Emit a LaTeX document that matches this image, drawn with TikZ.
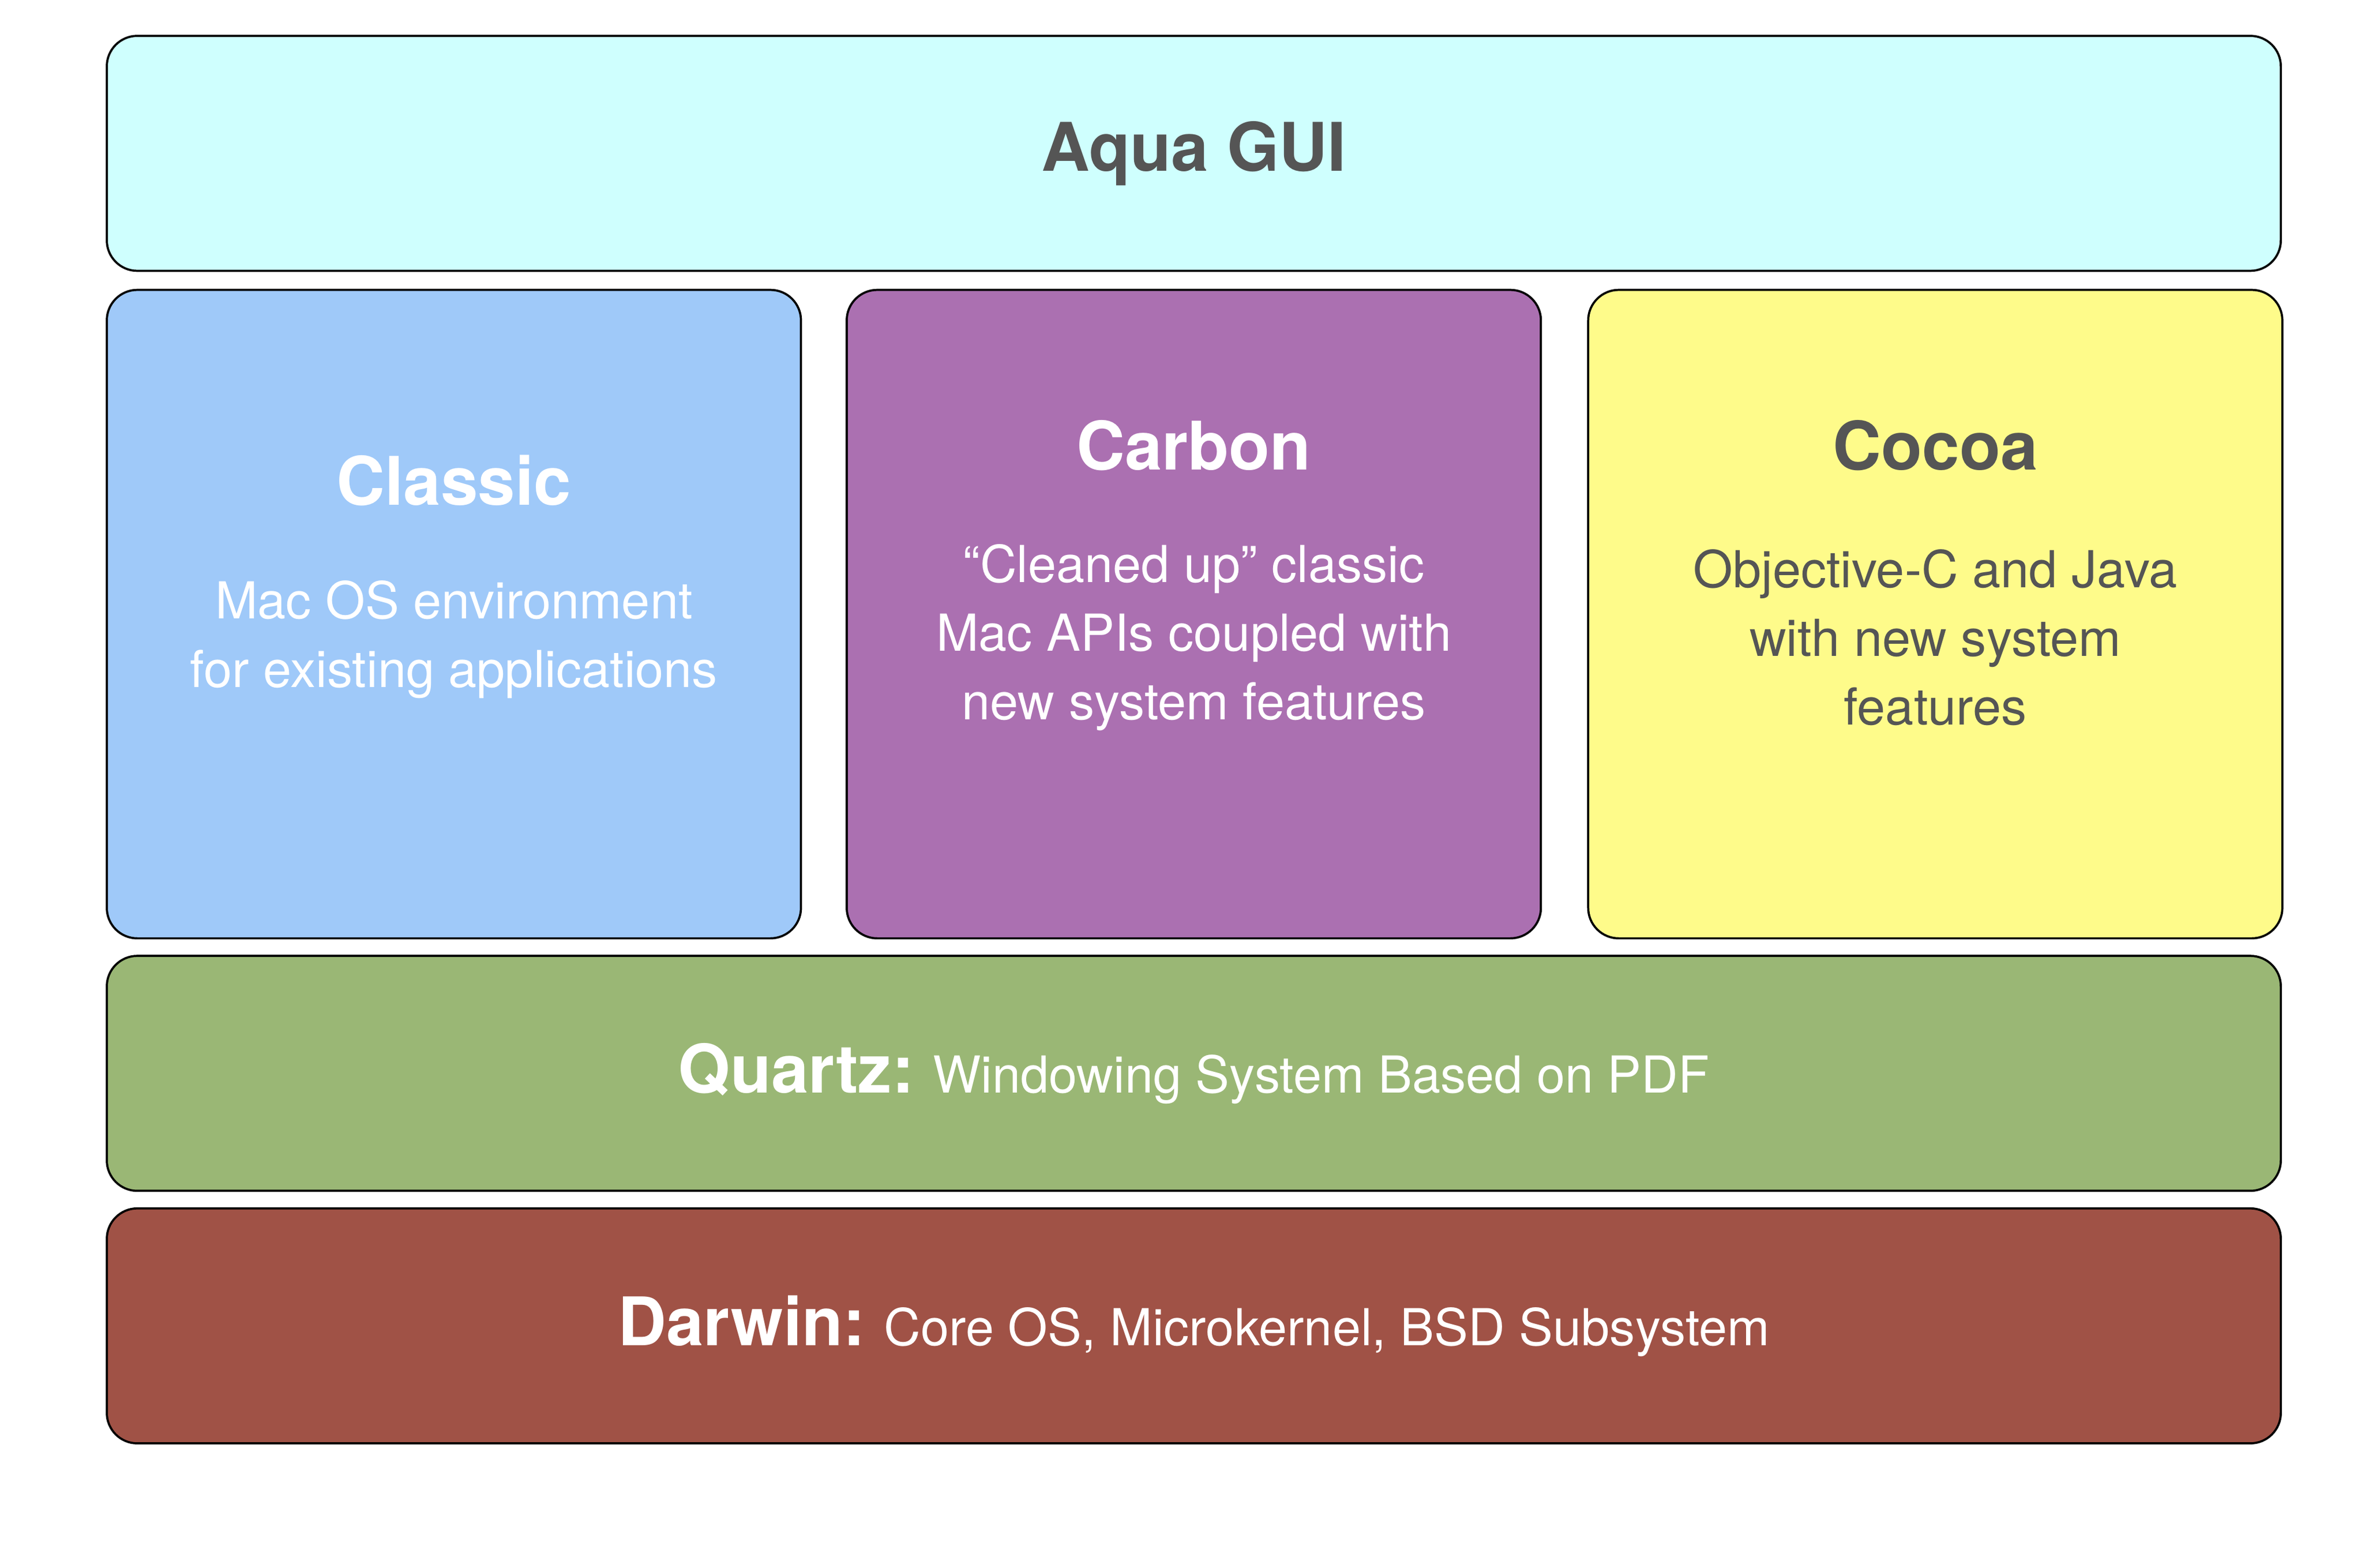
\documentclass[tikz,border=0pt]{standalone}
\usepackage{fontspec}
\setmainfont{TeX Gyre Heros}
\usetikzlibrary{positioning}
\definecolor{aquaC}{HTML}{CFFFFE}
\definecolor{classicC}{HTML}{9FC9F9}
\definecolor{carbonC}{HTML}{AB70B1}
\definecolor{cocoaC}{HTML}{FEFB8A}
\definecolor{quartzC}{HTML}{9AB775}
\definecolor{darwinC}{HTML}{A05246}
\definecolor{greyT}{HTML}{555555}
\tikzset{
  layer/.style={draw=black, line width=0.8pt, rounded corners=0.4cm, inner sep=0pt},
  wide/.style={layer, minimum width=28.5cm, minimum height=3.08cm},
  col/.style={layer, minimum width=9.1cm, minimum height=8.5cm},
  ttl/.style={font=\fontsize{25}{30}\selectfont\bfseries},
  body/.style={font=\fontsize{19}{25.6}\selectfont, align=center}
}
\begin{document}
\begin{tikzpicture}
\useasboundingbox (0,0) rectangle (31.2,-20.26);
\node[wide, fill=aquaC] (aqua) at (15.65,-2.01) {};
\node[ttl, text=greyT] (aquat) at (aqua.center) {Aqua GUI};
% middle columns
\node[col, fill=classicC] (classic) at (5.95,-8.05) {};
\node[col, fill=carbonC] (carbon) at (15.65,-8.05) {};
\node[col, fill=cocoaC] (cocoa) at (15.65+9.72,-8.05) {};
\node[ttl, text=white] (classict) at (5.95,-6.3) {Classic};
\node[body, text=white] (classicb) at (5.95,-8.38) {Mac OS environment\\for existing applications};
\node[ttl, text=white] (carbont) at (15.65,-5.84) {Carbon};
\node[body, text=white] (carbonb) at (15.65,-8.36) {“Cleaned up” classic\\Mac APIs coupled with\\new system features};
\node[ttl, text=greyT] (cocoat) at (25.37,-5.84) {Cocoa};
\node[body, text=greyT] (cocoab) at (25.37,-8.36) {Objective-C and Java\\with new system\\features};
% lower layers
\node[wide, fill=quartzC] (quartz) at (15.65,-14.07) {};
\node[text=white, font=\fontsize{19}{25}\selectfont] (quartzt) at (quartz.center) {{\fontsize{25}{30}\selectfont\bfseries Quartz:} Windowing System Based on PDF};
\node[wide, fill=darwinC] (darwin) at (15.65,-17.38) {};
\node[text=white, font=\fontsize{19}{25}\selectfont] (darwint) at (darwin.center) {{\fontsize{25}{30}\selectfont\bfseries Darwin:} Core OS, Microkernel, BSD Subsystem};
\end{tikzpicture}
\end{document}
